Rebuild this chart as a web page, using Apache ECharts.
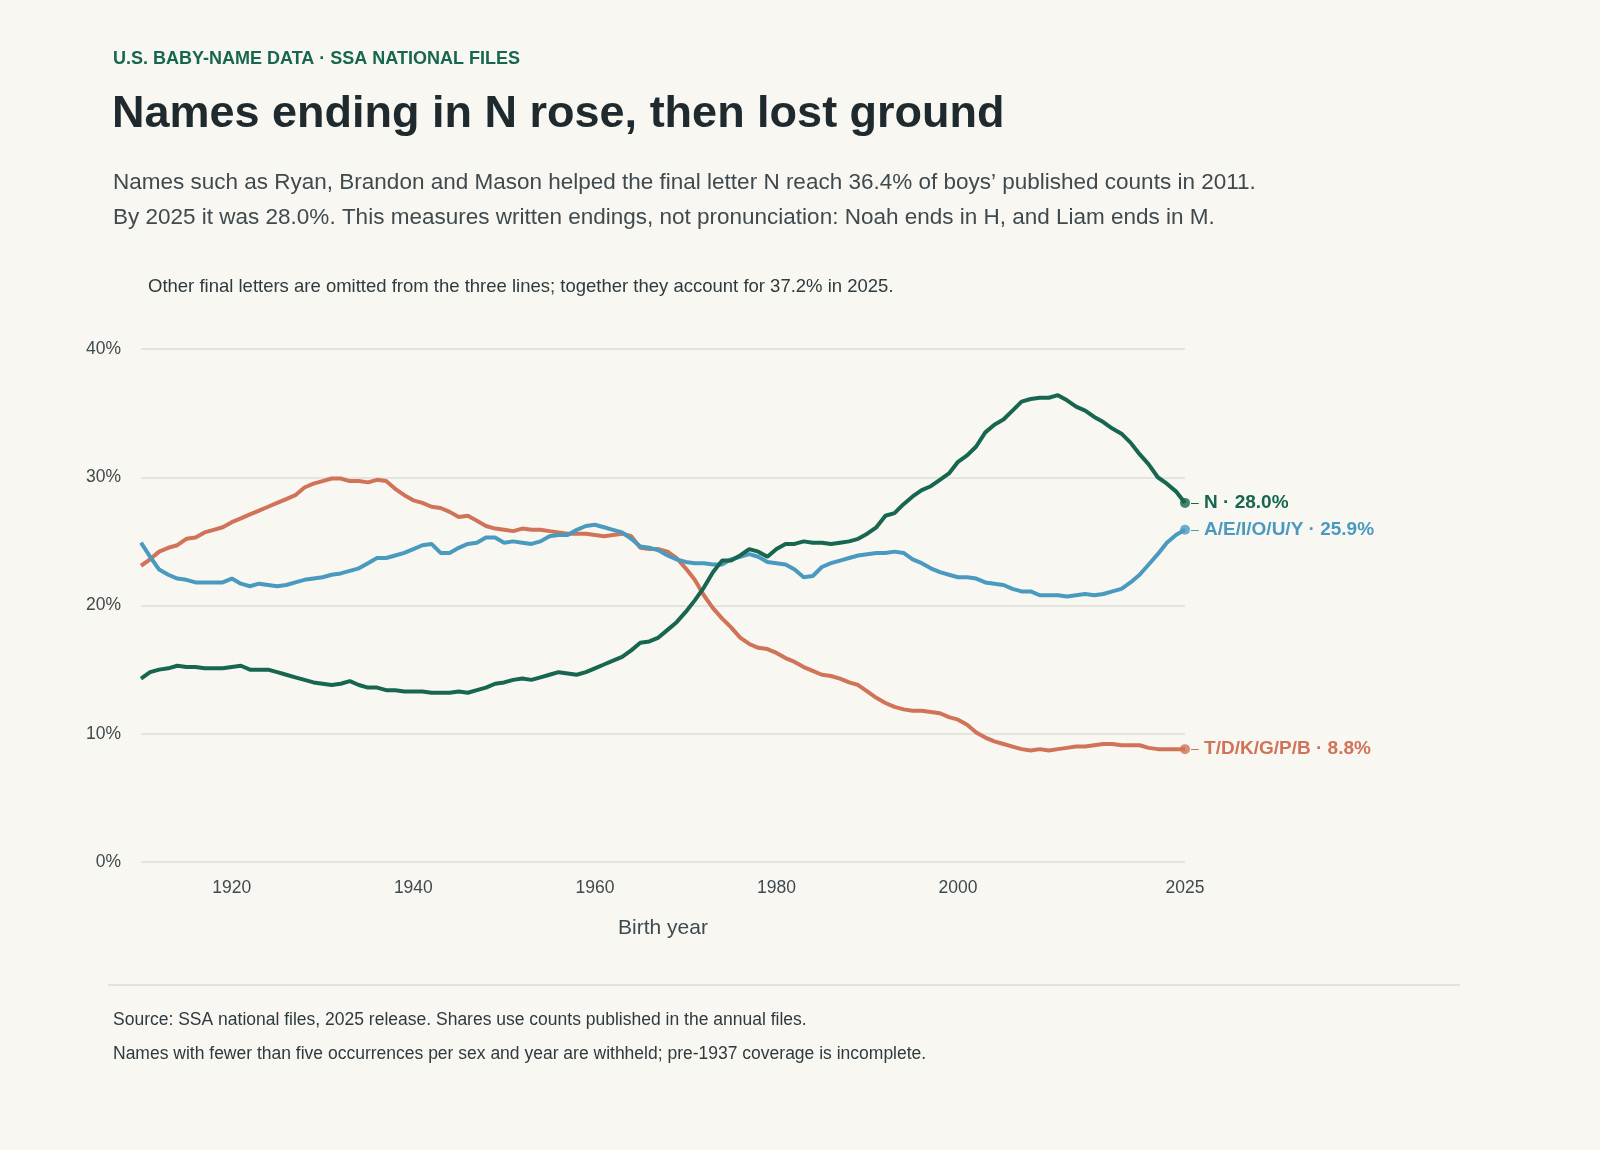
<!DOCTYPE html>
<html lang="en">
<head>
<meta charset="UTF-8">
<title>Names ending in N</title>
<style>
  html, body { margin: 0; padding: 0; background: #f8f7f2; }
  #chart { width: 1600px; height: 1150px; }
</style>
<script src="https://cdn.jsdelivr.net/npm/echarts@6/dist/echarts.min.js"></script>
</head>
<body>
<div id="chart"></div>
<script>
var startYear = 1910;
var xLabelYears = [1920, 1940, 1960, 1980, 2000, 2025];
var yTicks = [0, 10, 20, 30, 40];

// share of boys' counts (%) by final letter, 1910-2025
var nShare = [
  14.3,14.8,15.0,15.1,15.3,15.2,15.2,15.1,15.1,15.1,
  15.2,15.3,15.0,15.0,15.0,14.8,14.6,14.4,14.2,14.0,
  13.9,13.8,13.9,14.1,13.8,13.6,13.6,13.4,13.4,13.3,
  13.3,13.3,13.2,13.2,13.2,13.3,13.2,13.4,13.6,13.9,
  14.0,14.2,14.3,14.2,14.4,14.6,14.8,14.7,14.6,14.8,
  15.1,15.4,15.7,16.0,16.5,17.1,17.2,17.5,18.1,18.7,
  19.5,20.4,21.4,22.6,23.5,23.5,23.9,24.4,24.2,23.8,
  24.4,24.8,24.8,25.0,24.9,24.9,24.8,24.9,25.0,25.2,
  25.6,26.1,27.0,27.2,27.9,28.5,29.0,29.3,29.8,30.3,
  31.2,31.7,32.4,33.5,34.1,34.5,35.2,35.9,36.1,36.2,
  36.2,36.4,36.0,35.5,35.2,34.7,34.3,33.8,33.4,32.7,
  31.8,31.0,30.0,29.5,28.9,28.0
];
var vowelShare = [
  24.9,23.8,22.8,22.4,22.1,22.0,21.8,21.8,21.8,21.8,
  22.1,21.7,21.5,21.7,21.6,21.5,21.6,21.8,22.0,22.1,
  22.2,22.4,22.5,22.7,22.9,23.3,23.7,23.7,23.9,24.1,
  24.4,24.7,24.8,24.1,24.1,24.5,24.8,24.9,25.3,25.3,
  24.9,25.0,24.9,24.8,25.0,25.4,25.5,25.5,25.9,26.2,
  26.3,26.1,25.9,25.7,25.2,24.6,24.5,24.3,23.9,23.6,
  23.4,23.3,23.3,23.2,23.2,23.6,23.8,24.0,23.8,23.4,
  23.3,23.2,22.8,22.2,22.3,23.0,23.3,23.5,23.7,23.9,
  24.0,24.1,24.1,24.2,24.1,23.6,23.3,22.9,22.6,22.4,
  22.2,22.2,22.1,21.8,21.7,21.6,21.3,21.1,21.1,20.8,
  20.8,20.8,20.7,20.8,20.9,20.8,20.9,21.1,21.3,21.8,
  22.4,23.2,24.0,24.9,25.5,25.9
];
var stopShare = [
  23.1,23.6,24.2,24.5,24.7,25.2,25.3,25.7,25.9,26.1,
  26.5,26.8,27.1,27.4,27.7,28.0,28.3,28.6,29.2,29.5,
  29.7,29.9,29.9,29.7,29.7,29.6,29.8,29.7,29.1,28.6,
  28.2,28.0,27.7,27.6,27.3,26.9,27.0,26.6,26.2,26.0,
  25.9,25.8,26.0,25.9,25.9,25.8,25.7,25.6,25.6,25.6,
  25.5,25.4,25.5,25.6,25.4,24.5,24.4,24.4,24.2,23.7,
  22.9,22.0,20.8,19.8,19.0,18.3,17.5,17.0,16.7,16.6,
  16.3,15.9,15.6,15.2,14.9,14.6,14.5,14.3,14.0,13.8,
  13.3,12.8,12.4,12.1,11.9,11.8,11.8,11.7,11.6,11.3,
  11.1,10.7,10.1,9.7,9.4,9.2,9.0,8.8,8.7,8.8,
  8.7,8.8,8.9,9.0,9.0,9.1,9.2,9.2,9.1,9.1,
  9.1,8.9,8.8,8.8,8.8,8.8
];

var seriesNames = ['N', 'A/E/I/O/U/Y', 'T/D/K/G/P/B'];
var seriesColors = ['#17664f', '#4a9ac0', '#d17358'];
var seriesData = [nShare, vowelShare, stopShare];

function pairs(arr) {
  return arr.map(function (v, i) { return [startYear + i, v]; });
}

var font = '"Liberation Sans", Arial, sans-serif';
var chart = echarts.init(document.getElementById('chart'));

var series = [];
seriesData.forEach(function (arr, k) {
  var last = arr[arr.length - 1];
  series.push({
    name: seriesNames[k],
    type: 'line',
    data: pairs(arr),
    showSymbol: false,
    lineStyle: { width: 4, color: seriesColors[k] },
    itemStyle: { color: seriesColors[k] },
    z: 5 - k,
    endLabel: {
      show: true,
      distance: 6,
      formatter: '{d|–} ' + seriesNames[k] + ' · ' + last.toFixed(1) + '%',
      color: seriesColors[k],
      fontFamily: font,
      fontWeight: 'bold',
      fontSize: 19,
      rich: { d: { fontSize: 14, fontWeight: 'normal', color: seriesColors[k] } }
    }
  });
  series.push({
    type: 'scatter',
    data: [[startYear + arr.length - 1, last]],
    symbolSize: 10,
    itemStyle: { color: seriesColors[k] },
    z: 6
  });
});

chart.setOption({
  backgroundColor: '#f8f7f2',
  animation: false,
  textStyle: { fontFamily: font },
  title: [
    { text: 'U.S. BABY-NAME DATA · SSA NATIONAL FILES', left: 108, top: 45,
      textStyle: { color: '#17664f', fontSize: 18, fontWeight: 'bold', fontFamily: font } },
    { text: 'Names ending in N rose, then lost ground', left: 107, top: 87,
      textStyle: { color: '#1f2a2e', fontSize: 45, fontWeight: 'bold', fontFamily: font } },
    { text: 'Names such as Ryan, Brandon and Mason helped the final letter N reach 36.4% of boys’ published counts in 2011.\nBy 2025 it was 28.0%. This measures written endings, not pronunciation: Noah ends in H, and Liam ends in M.',
      left: 108, top: 160,
      textStyle: { color: '#3f4a4e', fontSize: 22.5, fontWeight: 'normal', lineHeight: 35, fontFamily: font } },
    { text: 'Other final letters are omitted from the three lines; together they account for 37.2% in 2025.',
      left: 143, top: 272,
      textStyle: { color: '#2f3a3e', fontSize: 18.5, fontWeight: 'normal', fontFamily: font } },
    { text: 'Source: SSA national files, 2025 release. Shares use counts published in the annual files.',
      left: 108, top: 1006,
      textStyle: { color: '#2f3a3e', fontSize: 17.5, fontWeight: 'normal', fontFamily: font } },
    { text: 'Names with fewer than five occurrences per sex and year are withheld; pre-1937 coverage is incomplete.',
      left: 108, top: 1040,
      textStyle: { color: '#2f3a3e', fontSize: 17.5, fontWeight: 'normal', fontFamily: font } }
  ],
  graphic: [
    { type: 'line', shape: { x1: 108, y1: 985, x2: 1460, y2: 985 },
      style: { stroke: '#dcdcd6', lineWidth: 1.5 } }
  ],
  grid: { left: 141, right: 415, top: 349, bottom: 288, containLabel: false },
  xAxis: {
    type: 'value',
    min: startYear,
    max: 2025,
    name: 'Birth year',
    nameLocation: 'middle',
    nameGap: 56,
    nameTextStyle: { color: '#3f4a4e', fontSize: 21, fontFamily: font },
    axisLine: { show: false },
    axisTick: { show: false },
    splitLine: { show: false },
    axisLabel: {
      customValues: xLabelYears,
      color: '#3f4a4e', fontSize: 17.5, margin: 17, fontFamily: font,
      formatter: function (v) { return String(v); }
    }
  },
  yAxis: {
    type: 'value',
    min: 0, max: 40, interval: 10,
    axisLine: { show: false },
    axisTick: { show: false },
    splitLine: { lineStyle: { color: '#dcdfdb', width: 1.5 } },
    axisLabel: {
      color: '#3f4a4e', fontSize: 17.5, margin: 20, fontFamily: font,
      formatter: function (v) { return yTicks.indexOf(v) >= 0 ? v + '%' : ''; }
    }
  },
  series: series
});
</script>
</body>
</html>
